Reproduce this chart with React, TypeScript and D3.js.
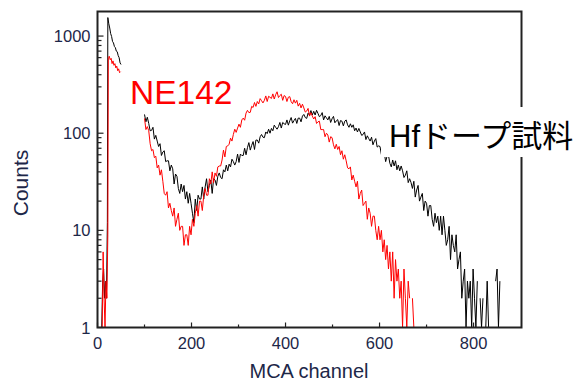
import React from "react";
import * as d3 from "d3";

// ---- data (MCA spectra, counts per channel) ----
const blackEarlyCh = [9, 11, 13, 15, 17, 19, 21, 22, 24, 26, 28, 30, 32, 34, 36, 38, 40, 42, 44, 46, 48, 50];
const blackEarly = [1, 3, 4, 2, 3, 2, 12, 1550, 1340, 1210, 1060, 990, 880, 850, 780, 760, 700, 690, 630, 600, 530, 510];

const redEarlyCh = [7, 10, 12, 14, 16, 18, 20, 22, 23, 25, 27, 29, 31, 33, 35, 37, 39, 41, 43, 45, 47, 49];
const redEarly = [1, 1, 6, 2, 1, 3, 2, 9, 600, 620, 570, 590, 520, 555, 500, 520, 470, 490, 440, 460, 420, 430];

const mainStart = 100;
const mainStep = 3;

const blackMain = [
  156, 131, 146, 126, 106, 107, 115, 87, 95, 83,
  73, 78, 59, 64, 66, 51, 52, 52, 41, 47,
  43, 30, 38, 36, 27, 24, 30, 25, 29, 21,
  25, 19, 24, 19, 15, 12, 21, 16, 23, 21,
  21, 28, 21, 28, 34, 25, 29, 33, 24, 34,
  33, 29, 36, 39, 35, 34, 42, 40, 47, 41,
  48, 45, 54, 51, 47, 51, 61, 50, 61, 59,
  59, 70, 60, 71, 80, 67, 75, 82, 68, 85,
  85, 79, 92, 97, 91, 90, 103, 99, 110, 100,
  112, 106, 121, 115, 110, 117, 129, 113, 129, 125,
  123, 137, 121, 134, 145, 127, 135, 142, 126, 143,
  143, 131, 150, 156, 145, 142, 161, 153, 171, 154,
  168, 154, 172, 160, 148, 152, 163, 137, 151, 144,
  137, 149, 129, 141, 149, 128, 134, 138, 120, 135,
  133, 119, 133, 137, 122, 115, 125, 115, 122, 106,
  113, 103, 112, 103, 95, 97, 103, 86, 94, 88,
  83, 91, 76, 83, 88, 72, 74, 73, 60, 66,
  63, 51, 58, 59, 49, 45, 53, 46, 52, 42,
  47, 41, 46, 41, 35, 37, 41, 31, 34, 31,
  27, 32, 22, 26, 29, 20, 22, 24, 16, 20,
  19, 14, 18, 18, 13, 11, 15, 12, 14, 10,
  14, 9, 14, 10, 7, 8, 11, 5, 9, 7,
  6, 9, 4, 5, 6, 2, 3, 4, 1, 3,
  2, 3, 1, 4, 2, 1, 3, 0, 2, 1,
  2, 0, 1, 3, 1, 0, 0, 1, 0, 3,
  4, 1, 3, 0,
];

const redMain = [
  142, 109, 117, 106, 78, 66, 68, 56, 58, 44,
  47, 37, 42, 32, 24, 23, 25, 17, 19, 16,
  14, 17, 11, 13, 15, 10, 11, 11, 7, 9,
  9, 7, 11, 9, 13, 11, 15, 18, 14, 20,
  20, 16, 23, 27, 23, 23, 34, 30, 40, 31,
  39, 36, 45, 46, 46, 53, 67, 57, 73, 74,
  77, 89, 83, 97, 110, 102, 113, 124, 115, 137,
  143, 136, 161, 172, 163, 164, 189, 184, 207, 189,
  212, 200, 227, 216, 205, 218, 242, 212, 240, 234,
  228, 254, 225, 249, 267, 233, 244, 252, 218, 244,
  239, 212, 235, 238, 211, 201, 221, 204, 218, 190,
  203, 182, 199, 182, 165, 169, 180, 150, 163, 150,
  140, 148, 126, 131, 133, 109, 109, 109, 92, 100,
  96, 81, 92, 90, 76, 69, 77, 68, 73, 60,
  66, 54, 60, 52, 44, 43, 45, 33, 37, 32,
  28, 32, 21, 24, 26, 18, 19, 20, 13, 17,
  15, 11, 14, 14, 10, 8, 11, 8, 10, 6,
  8, 5, 7, 4, 6, 3, 6, 2, 5, 3,
  4, 2, 3, 1, 4, 2, 1, 3, 2, 0,
  2, 1, 0, 2, 0,
];

const xMajorTicks = [0, 200, 400, 600, 800];
const xMinorTicks = [100, 300, 500, 700];
const yMajorTicks = [1, 10, 100, 1000];
const yTickLabels = ["1", "10", "100", "1000"];

const xTitle = "MCA channel";
const yTitle = "Counts";
const redLabel = "NE142";
const blackLabel = "Hfドープ試料";

// ---- layout ----
const W = 580;
const H = 381;
const left = 97.5;
const right = 521.5;
const top = 11.5;
const bottom = 327.5;

type Pt = [number, number];

function zipPts(ch: number[], v: number[]): Pt[] {
  return v.map((val, i) => [ch[i], val]);
}
function mainPts(v: number[]): Pt[] {
  return v.map((val, i) => [mainStart + i * mainStep, val]);
}

export default function App() {
  const x = d3.scaleLinear().domain([0, 902]).range([left, right]);
  const y = d3.scaleLog().domain([1, 1790]).range([bottom, top]);

  const line = d3
    .line<Pt>()
    .defined((d) => d[1] > 0)
    .x((d) => x(d[0]))
    .y((d) => y(d[1]));

  const yMinor: number[] = [];
  [1, 10, 100, 1000].forEach((dec) => {
    for (let k = 2; k <= 9; k++) {
      const v = dec * k;
      if (v < 1790) yMinor.push(v);
    }
  });

  const font = "'Liberation Sans', Arial, sans-serif";
  const labelColor = "#1d2748";

  return (
    <svg
      width={W}
      height={H}
      style={{ position: "absolute", left: 0, top: 0, background: "#fff" }}
      xmlns="http://www.w3.org/2000/svg"
    >
      <defs>
        <clipPath id="plot">
          <rect x={left} y={top} width={right - left} height={bottom - top} />
        </clipPath>
      </defs>
      <rect x={0} y={0} width={W} height={H} fill="#fff" />

      <g clipPath="url(#plot)" fill="none" strokeWidth={1} strokeLinejoin="round">
        <path d={line(zipPts(blackEarlyCh, blackEarly)) || ""} stroke="#000" />
        <path d={line(mainPts(blackMain)) || ""} stroke="#000" />
        <path d={line(zipPts(redEarlyCh, redEarly)) || ""} stroke="#ff0000" />
        <path d={line(mainPts(redMain)) || ""} stroke="#ff0000" />
      </g>

      {/* ticks */}
      <g stroke="#222" strokeWidth={1.2}>
        {xMajorTicks.map((t) => (
          <line key={"xM" + t} x1={x(t)} x2={x(t)} y1={bottom} y2={bottom - 5} />
        ))}
        {xMinorTicks.map((t) => (
          <line key={"xm" + t} x1={x(t)} x2={x(t)} y1={bottom} y2={bottom - 3} />
        ))}
        {yMajorTicks.map((t) => (
          <line key={"yM" + t} x1={left} x2={left + 6} y1={y(t)} y2={y(t)} />
        ))}
        {yMinor.map((t) => (
          <line key={"ym" + t} x1={left} x2={left + 4} y1={y(t)} y2={y(t)} />
        ))}
      </g>

      {/* frame */}
      <rect
        x={left}
        y={top}
        width={right - left}
        height={bottom - top}
        fill="none"
        stroke="#222"
        strokeWidth={2}
      />

      {/* tick labels */}
      <g fontFamily={font} fontSize={16.5} fill={labelColor}>
        {yMajorTicks.map((t, i) => (
          <text key={"yl" + t} x={left - 7} y={y(t) + 6} textAnchor="end">
            {yTickLabels[i]}
          </text>
        ))}
        {xMajorTicks.map((t) => (
          <text key={"xl" + t} x={x(t)} y={349} textAnchor="middle">
            {t}
          </text>
        ))}
      </g>

      {/* axis titles */}
      <text
        x={309}
        y={378}
        fontFamily={font}
        fontSize={20}
        fill={labelColor}
        textAnchor="middle"
      >
        {xTitle}
      </text>
      <text
        transform={`translate(28,183) rotate(-90)`}
        fontFamily={font}
        fontSize={21}
        fill={labelColor}
        textAnchor="middle"
      >
        {yTitle}
      </text>

      {/* series labels */}
      <text x={130} y={104} fontFamily={font} fontSize={33.5} fill="#ff0000">
        {redLabel}
      </text>
      <rect x={381} y={107} width={199} height={50} fill="#fff" />
      <text
        x={389}
        y={147}
        fontFamily={"'Liberation Sans', 'Noto Sans CJK JP', sans-serif"}
        fontSize={31}
        fill="#000"
      >
        {blackLabel}
      </text>
    </svg>
  );
}
